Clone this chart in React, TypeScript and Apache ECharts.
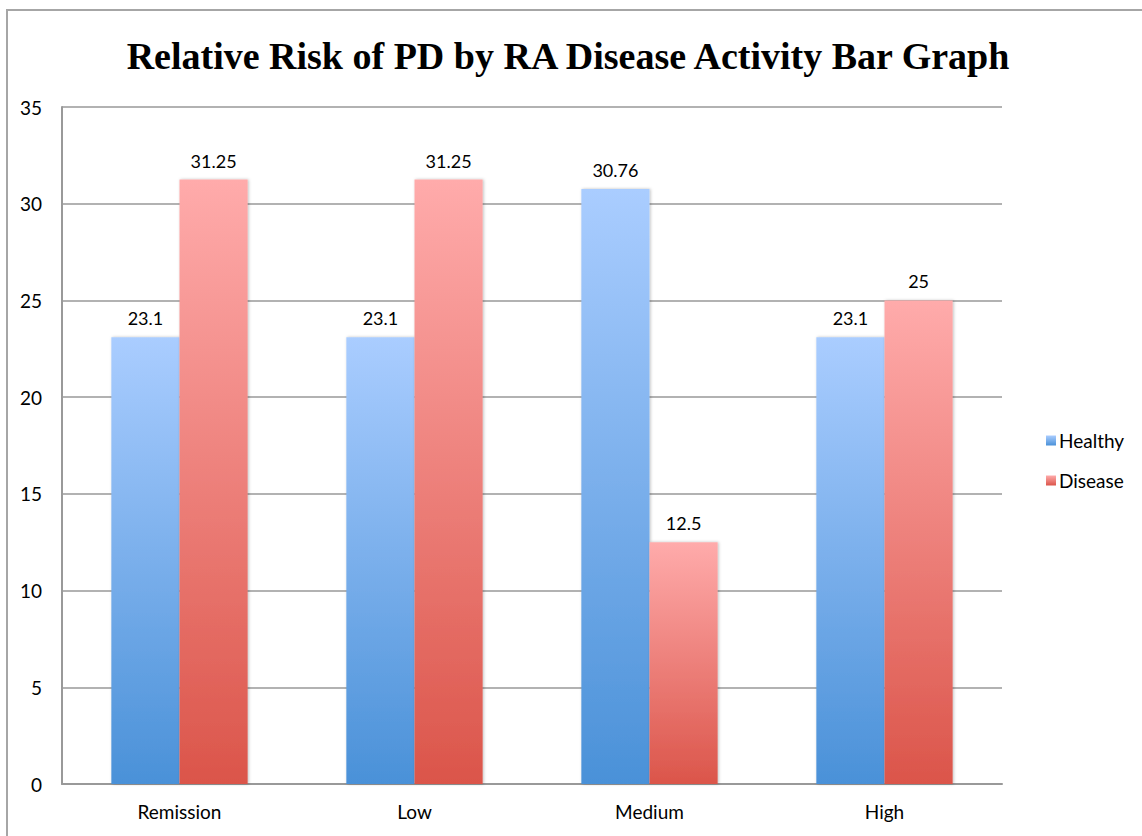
import React, { useEffect, useRef } from "react";
import * as echarts from "echarts";

const categories = ["Remission", "Low", "Medium", "High"];
const healthy = [23.1, 23.1, 30.76, 23.1];
const disease = [31.25, 31.25, 12.5, 25];
const seriesNames = ["Healthy", "Disease"];
const titleText = "Relative Risk of PD by RA Disease Activity Bar Graph";

const labelFont = "Lato, sans-serif";

function barGradient(top: string, bottom: string) {
  return new echarts.graphic.LinearGradient(0, 0, 0, 1, [
    { offset: 0, color: top },
    { offset: 1, color: bottom },
  ]);
}

export default function App() {
  const ref = useRef<HTMLDivElement>(null);

  useEffect(() => {
    if (!ref.current) return;
    const chart = echarts.init(ref.current, undefined, { renderer: "svg" });

    const barLabel = {
      show: true,
      position: "top" as const,
      distance: 10,
      color: "#000",
      fontSize: 18,
      fontFamily: labelFont,
    };

    chart.setOption({
      animation: false,
      backgroundColor: "#fff",
      title: {
        text: titleText,
        left: 563,
        textAlign: "center",
        top: 32,
        textStyle: {
          fontFamily: "Liberation Serif",
          fontWeight: "bold",
          fontSize: 38,
          color: "#000",
        },
      },
      graphic: [
        {
          type: "polyline",
          shape: {
            points: [
              [7, 836],
              [7, 10],
              [1142, 10],
            ],
          },
          style: { stroke: "#a6a6a6", lineWidth: 2, fill: "none" },
          silent: true,
        },
      ],
      legend: {
        orient: "vertical",
        left: 1041,
        top: 426,
        itemWidth: 10,
        itemHeight: 10,
        itemGap: 21,
        icon: "rect",
        textStyle: { fontSize: 19, fontFamily: labelFont, color: "#000", padding: [0, 0, 0, -2] },
        data: seriesNames,
      },
      grid: { left: 62, right: 140, top: 107, bottom: 52 },
      xAxis: {
        type: "category",
        data: categories,
        axisLine: { show: true, lineStyle: { color: "#999", width: 2 } },
        axisTick: { show: false },
        axisLabel: { color: "#000", fontSize: 19, fontFamily: labelFont, margin: 18 },
      },
      yAxis: {
        type: "value",
        min: 0,
        max: 35,
        interval: 5,
        axisLine: { show: true, lineStyle: { color: "#999", width: 2 } },
        axisTick: { show: false },
        axisLabel: { color: "#000", fontSize: 19, fontFamily: labelFont, margin: 20 },
        splitLine: { show: true, lineStyle: { color: "#999", width: 1.5 } },
      },
      series: [
        {
          name: seriesNames[0],
          type: "bar",
          data: healthy,
          barGap: "0%",
          barCategoryGap: "42%",
          itemStyle: {
            color: barGradient("#aacdff", "#4a91d8"),
            shadowColor: "rgba(0,0,0,0.25)",
            shadowBlur: 3,
            shadowOffsetX: 1,
          },
          label: barLabel,
        },
        {
          name: seriesNames[1],
          type: "bar",
          data: disease,
          barGap: "0%",
          barCategoryGap: "42%",
          itemStyle: {
            color: barGradient("#ffabab", "#db554a"),
            shadowColor: "rgba(0,0,0,0.25)",
            shadowBlur: 3,
            shadowOffsetX: 1,
          },
          label: barLabel,
        },
      ],
    });

    return () => chart.dispose();
  }, []);

  return (
    <div
      ref={ref}
      style={{ position: "absolute", left: 0, top: 0, width: 1142, height: 836 }}
    />
  );
}
